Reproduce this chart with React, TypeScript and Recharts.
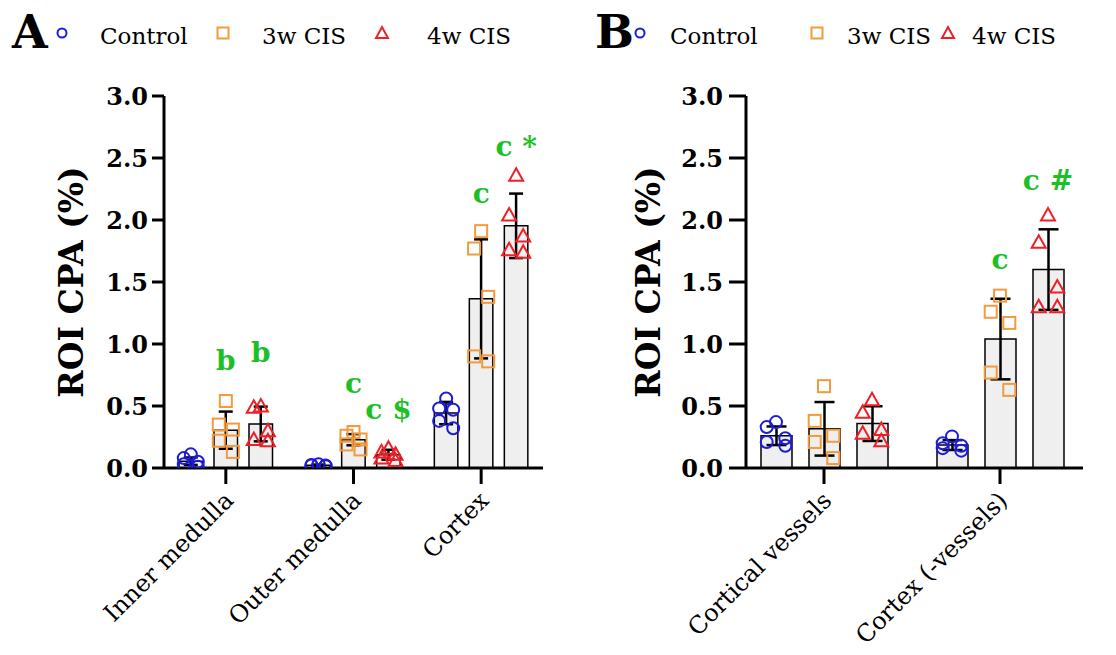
import React from 'react';
import { ComposedChart, Bar, Scatter, XAxis, YAxis, ErrorBar } from 'recharts';

const SERIES = ['Control', '3w CIS', '4w CIS'];
const COLORS = ['#1c1cd8', '#f39a3c', '#ee1f26'];
const SIG_GREEN = '#1dbf27';
const Y_TICKS = [0, 0.5, 1, 1.5, 2, 2.5, 3];
const FONT = '"DejaVu Serif", serif';

// Panel A
const A_REGIONS = ['Inner medulla', 'Outer medulla', 'Cortex'];
const A_CTRL_MEAN = [0.055, 0.022, 0.443];
const A_CTRL_SD = [0.03, 0.006, 0.09];
const A_3W_MEAN = [0.305, 0.228, 1.364];
const A_3W_SD = [0.15, 0.045, 0.48];
const A_4W_MEAN = [0.355, 0.107, 1.953];
const A_4W_SD = [0.14, 0.04, 0.26];
const A_CTRL_PTS = [[0.11, 0.08, 0.05, 0.03, 0.01], [0.03, 0.025, 0.02, 0.02, 0.015], [0.56, 0.48, 0.47, 0.38, 0.32]];
const A_3W_PTS = [[0.54, 0.35, 0.31, 0.22, 0.13], [0.29, 0.26, 0.23, 0.19, 0.15], [1.91, 1.77, 1.38, 0.9, 0.86]];
const A_4W_PTS = [[0.5, 0.49, 0.3, 0.23, 0.22], [0.16, 0.13, 0.11, 0.08, 0.06], [2.36, 2.04, 1.87, 1.76, 1.74]];
const A_SIGS = [
  { g: 0, s: 1, text: 'b', y: 0.87 },
  { g: 0, s: 2, text: 'b', y: 0.93 },
  { g: 1, s: 1, text: 'c', y: 0.68 },
  { g: 1, s: 2, text: 'c $', y: 0.47 },
  { g: 2, s: 1, text: 'c', y: 2.21 },
  { g: 2, s: 2, text: 'c *', y: 2.59 },
];

// Panel B
const B_REGIONS = ['Cortical vessels', 'Cortex (-vessels)'];
const B_CTRL_MEAN = [0.26, 0.185];
const B_CTRL_SD = [0.075, 0.04];
const B_3W_MEAN = [0.316, 1.04];
const B_3W_SD = [0.216, 0.325];
const B_4W_MEAN = [0.358, 1.6];
const B_4W_SD = [0.14, 0.325];
const B_CTRL_PTS = [[0.37, 0.33, 0.24, 0.21, 0.18], [0.255, 0.2, 0.18, 0.16, 0.14]];
const B_3W_PTS = [[0.66, 0.38, 0.26, 0.21, 0.08], [1.39, 1.26, 1.17, 0.77, 0.63]];
const B_4W_PTS = [[0.55, 0.45, 0.31, 0.28, 0.22], [2.04, 1.82, 1.46, 1.3, 1.3]];
const B_SIGS = [
  { g: 1, s: 1, text: 'c', y: 1.68 },
  { g: 1, s: 2, text: 'c #', y: 2.32 },
];

const JITTER = [0, -0.3, 0.3, -0.3, 0.3];
const Y_AXIS_W = 80;
const X_AXIS_H = 187;
const H = 655;

const CircleMark = (p: any) => (
  <circle cx={p.cx} cy={p.cy} r={6} fill="none" stroke={COLORS[0]} strokeWidth={2} />
);
const SquareMark = (p: any) => (
  <rect x={p.cx - 6} y={p.cy - 6} width={12} height={12} fill="none" stroke={COLORS[1]} strokeWidth={2} />
);
const TriMark = (p: any) => (
  <polygon
    points={`${p.cx},${p.cy - 7} ${p.cx + 7},${p.cy + 5.5} ${p.cx - 7},${p.cy + 5.5}`}
    fill="none" stroke={COLORS[2]} strokeWidth={2}
  />
);
const MARKERS = [CircleMark, SquareMark, TriMark];

const SigText = (p: any) => (
  <text x={p.cx} y={p.cy} textAnchor="middle" dominantBaseline="central"
    fill={SIG_GREEN} fontFamily={FONT} fontWeight={700} fontSize={28}>
    {p.payload.text}
  </text>
);

const RotTick = (props: any) => {
  const { x, y, payload } = props;
  const tx = x + 9;
  const ty = y + 16;
  return (
    <text x={tx} y={ty} transform={`rotate(-45 ${tx} ${ty})`} textAnchor="end"
      fontFamily={FONT} fontSize={24} fill="#000">
      {payload.value}
    </text>
  );
};

const YTick = (props: any) => {
  const { x, y, payload } = props;
  return (
    <text x={x} y={y} textAnchor="end" dominantBaseline="central"
      fontFamily={FONT} fontWeight={700} fontSize={24} fill="#000">
      {Number(payload.value).toFixed(1)}
    </text>
  );
};

const YTitle = ({ tx, ty }: any) => (
  <text x={tx} y={ty} transform={`rotate(-90 ${tx} ${ty})`} textAnchor="middle" dominantBaseline="central"
    fontFamily={FONT} fontWeight={700} fontSize={33} fill="#000">
    ROI CPA (%)
  </text>
);

function Panel({ regions, means, sds, points, sigs, left, width, margin, barSize, barGap, pad, capHalf, yTick, titleX }: any) {
  const rows = regions.map((name: string, i: number) => ({
    name,
    m0: means[0][i], e0: sds[0][i],
    m1: means[1][i], e1: sds[1][i],
    m2: means[2][i], e2: sds[2][i],
  }));
  const plotW = width - margin.left - margin.right - Y_AXIS_W;
  const band = (plotW - pad.left - pad.right) / regions.length;
  const step = (barSize + barGap) / band;
  const ptsData = points.map((groups: number[][], s: number) =>
    groups.flatMap((vals, g) =>
      vals.map((v, k) => ({ x: g + 0.5 + (s - 1) * step + (JITTER[k] * barSize) / band, y: v })),
    ),
  );
  const sigData = sigs.map((d: any) => ({ x: d.g + 0.5 + (d.s - 1) * step, y: d.y, text: d.text }));
  const plotH = H - margin.top - margin.bottom - X_AXIS_H;
  const axisStyle = { stroke: '#000', strokeWidth: 3 };

  return (
    <div style={{ position: 'absolute', left, top: 0 }}>
      <ComposedChart width={width} height={H} data={rows} margin={margin} barGap={barGap}>
        <XAxis xAxisId="cat" dataKey="name" type="category" height={X_AXIS_H} interval={0}
          tickSize={16} tick={<RotTick />} axisLine={axisStyle} tickLine={axisStyle} padding={pad} />
        <XAxis xAxisId="num" dataKey="x" type="number" domain={[0, regions.length]} hide
          allowDataOverflow padding={pad} />
        <YAxis width={Y_AXIS_W} domain={[0, 3]} ticks={Y_TICKS} interval={0} allowDataOverflow
          tickSize={yTick.size} tickMargin={yTick.margin} tick={<YTick />}
          axisLine={axisStyle} tickLine={axisStyle}
          label={<YTitle tx={titleX} ty={margin.top + plotH / 2} />} />
        {[0, 1, 2].map((s) => (
          <Bar key={`bar${s}`} xAxisId="cat" dataKey={`m${s}`} name={SERIES[s]} barSize={barSize}
            fill="#efefef" stroke="#000" strokeWidth={1.5} isAnimationActive={false}>
            <ErrorBar dataKey={`e${s}`} width={capHalf} stroke="#000" strokeWidth={2.5} direction="y" />
          </Bar>
        ))}
        {[0, 1, 2].map((s) => (
          <Scatter key={`pts${s}`} xAxisId="num" data={ptsData[s]} dataKey="y" name={SERIES[s]}
            shape={MARKERS[s]} isAnimationActive={false} />
        ))}
        <Scatter xAxisId="num" data={sigData} dataKey="y" shape={SigText} isAnimationActive={false} />
      </ComposedChart>
    </div>
  );
}

const LegendRow = ({ letter, letterX, itemX }: any) => (
  <g fontFamily={FONT}>
    <text x={letterX} y={48} fontSize={46} fontWeight={700} fill="#000">{letter}</text>
    {SERIES.map((name, i) => {
      const mx = itemX[i][0];
      const my = 33;
      const mark =
        i === 0 ? <circle cx={mx} cy={my} r={4.5} fill="none" stroke={COLORS[0]} strokeWidth={2} /> :
        i === 1 ? <rect x={mx - 5.5} y={my - 5.5} width={11} height={11} fill="none" stroke={COLORS[1]} strokeWidth={2} /> :
        <polygon points={`${mx},${my - 6} ${mx + 6},${my + 5} ${mx - 6},${my + 5}`} fill="none" stroke={COLORS[2]} strokeWidth={2} />;
      return (
        <g key={name}>
          {mark}
          <text x={itemX[i][1]} y={44} fontSize={23} fill="#000">{name}</text>
        </g>
      );
    })}
  </g>
);

export default function App() {
  return (
    <div style={{ position: 'absolute', left: 0, top: 0, width: 1116, height: H, background: '#fff', overflow: 'hidden' }}>
      <Panel
        regions={A_REGIONS}
        means={[A_CTRL_MEAN, A_3W_MEAN, A_4W_MEAN]}
        sds={[A_CTRL_SD, A_3W_SD, A_4W_SD]}
        points={[A_CTRL_PTS, A_3W_PTS, A_4W_PTS]}
        sigs={A_SIGS}
        left={0}
        width={560}
        margin={{ top: 96, right: 17, bottom: 0, left: 84 }}
        barSize={23.5}
        barGap={11.5}
        pad={{ left: -2, right: -2 }}
        capHalf={7}
        yTick={{ size: 12, margin: 4 }}
        titleX={71}
      />
      <Panel
        regions={B_REGIONS}
        means={[B_CTRL_MEAN, B_3W_MEAN, B_4W_MEAN]}
        sds={[B_CTRL_SD, B_3W_SD, B_4W_SD]}
        points={[B_CTRL_PTS, B_3W_PTS, B_4W_PTS]}
        sigs={B_SIGS}
        left={560}
        width={556}
        margin={{ top: 96, right: 33, bottom: 0, left: 106 }}
        barSize={31}
        barGap={17}
        pad={{ left: -10, right: -5 }}
        capHalf={10}
        yTick={{ size: 17, margin: 6 }}
        titleX={88}
      />
      <svg width={1116} height={60} style={{ position: 'absolute', left: 0, top: 0 }}>
        <LegendRow letter="A" letterX={12} itemX={[[62, 100], [223, 262], [382, 427]]} />
        <LegendRow letter="B" letterX={595} itemX={[[640, 670], [817, 847], [948, 972]]} />
      </svg>
    </div>
  );
}
